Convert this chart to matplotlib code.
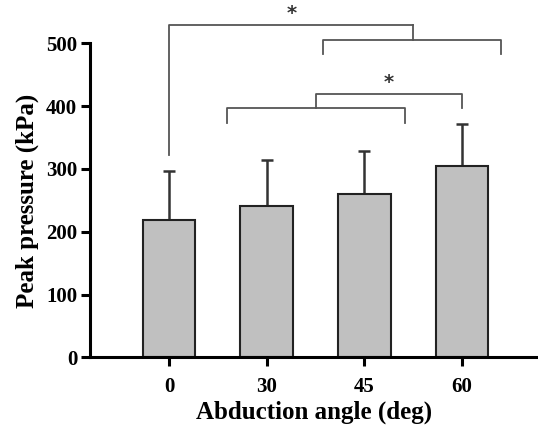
import matplotlib.pyplot as plt

angles = ["0", "30", "45", "60"]
peak_pressure = [219, 241, 260, 305]
sd = [78, 73, 69, 66]

plt.rcParams["font.family"] = ["Liberation Serif", "DejaVu Serif"]
plt.rcParams["font.weight"] = "bold"

fig = plt.figure(figsize=(5.38, 4.3), dpi=100)
ax = fig.add_axes([0.168, 0.169, 0.832, 0.73])

x = list(range(len(angles)))
ax.bar(x, peak_pressure, width=0.54, color="#c0c0c0", edgecolor="#222222",
       linewidth=1.5, zorder=2)
ax.errorbar(x, peak_pressure, yerr=[[0] * len(sd), sd], fmt="none",
            ecolor="#333333", elinewidth=1.8, capsize=4.5, capthick=1.8, zorder=1)

ax.set_xlim(-0.806, 3.78)
ax.set_ylim(0, 500)
ax.set_xticks(x)
ax.set_xticklabels(angles)
ax.set_yticks([0, 100, 200, 300, 400, 500])

for side in ["top", "right"]:
    ax.spines[side].set_visible(False)
for side in ["left", "bottom"]:
    ax.spines[side].set_linewidth(2.2)
ax.tick_params(width=2.2, length=6.5, labelsize=15, pad=3)
ax.tick_params(axis="x", pad=8)

ax.set_xlabel("Abduction angle (deg)", fontsize=18, fontweight="bold", labelpad=2)
ax.set_ylabel("Peak pressure (kPa)", fontsize=18, fontweight="bold", labelpad=5)

# significance brackets
kw = dict(color="#555555", lw=1.3, clip_on=False)
ax.plot([0, 0, 2.495], [322, 529, 529], **kw)
ax.plot([2.495, 2.495], [529, 505], **kw)
ax.plot([1.574, 1.574, 3.405, 3.405], [482.5, 505, 505, 482.5], **kw)
ax.text(1.255, 533, "*", ha="center", va="bottom", fontsize=14, color="#333333",
        family="DejaVu Sans")

ax.plot([0.595, 0.595, 2.42, 2.42], [373.6, 396.5, 396.5, 373.6], **kw)
ax.plot([1.509, 1.509, 3.0, 3.0], [396.5, 419, 419, 396.5], **kw)
ax.text(2.255, 423, "*", ha="center", va="bottom", fontsize=14, color="#333333",
        family="DejaVu Sans")

fig.savefig("out.png", dpi=100)
